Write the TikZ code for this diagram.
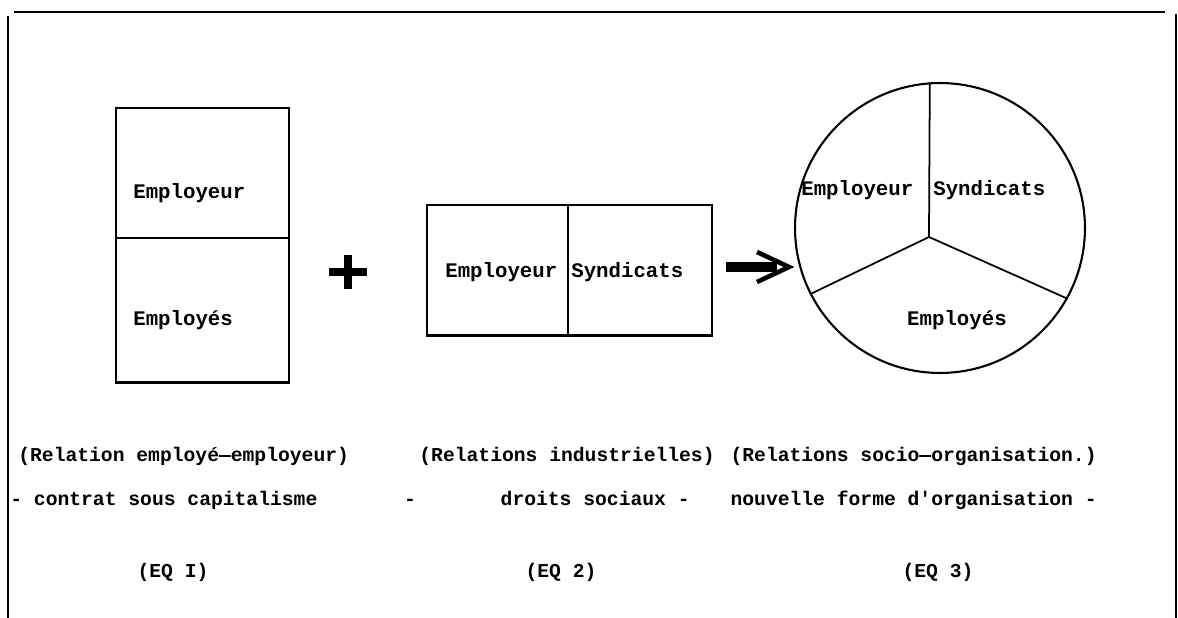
\documentclass[tikz,border=0pt]{standalone}
\usepackage{fontspec}
\setmainfont{Liberation Mono}
\usepackage{tikz}
\usetikzlibrary{shapes.geometric, positioning}
\tikzstyle{cell} = [rectangle, draw=black, line width=1pt, inner sep=0pt]
\tikzstyle{part} = [font=\fontsize{11.8}{14}\selectfont\bfseries, inner sep=0pt]
\tikzstyle{caption} = [font=\fontsize{11.2}{14}\selectfont\bfseries, inner sep=0pt]
\tikzstyle{frame} = [line width=1.5pt]

\begin{document}
\begin{tikzpicture}[x=0.02cm, y=-0.02cm]
    \useasboundingbox (0,0) rectangle (1178,618);
    % Frame
    \draw [frame] (14,12) -- (1165,12);
    \draw [line width=1pt] (8,16) -- (8,618);
    \draw [line width=1pt] (1176,14) -- (1176,618);

    % EQ I : employeur over employes
    \node (top1) [cell, minimum width=3.46cm, minimum height=2.6cm] at (202.5,173) {};
    \node (bot1) [cell, minimum width=3.46cm, minimum height=2.88cm] at (202.5,310) {};
    \draw [frame] (bot1.south west) -- (bot1.south east);
    \node (emp1) [part, anchor=base west] at (133,199) {Employeur};
    \node (emps1) [part, anchor=base west] at (133,326) {Employés};

    % plus
    \draw [line width=4pt] (329,272) -- (367,272);
    \draw [line width=4pt] (348,255) -- (348,289);

    % EQ 2 : employeur | syndicats
    \node (left2) [cell, minimum width=2.82cm, minimum height=2.6cm] at (497.5,270) {};
    \node (right2) [cell, minimum width=2.88cm, minimum height=2.6cm] at (640,270) {};
    \draw [frame] (left2.south west) -- (right2.south east);
    \node (emp2) [part, anchor=base west] at (445,278) {Employeur};
    \node (syn2) [part, anchor=base west] at (571,278) {Syndicats};

    % arrow
    \coordinate (from) at (726,267);
    \coordinate (tip) at (789,267);
    \draw [line width=6.2pt] (from) -- ([xshift=-0.25cm]tip);
    \draw [line width=2.6pt] ([xshift=-0.64cm, yshift=0.3cm]tip) -- (tip) -- ([xshift=-0.64cm, yshift=-0.3cm]tip);

    % EQ 3 : circle in three
    \node (circ) [circle, draw=black, line width=1.2pt, minimum size=5.8cm, inner sep=0pt] at (940,228) {};
    \coordinate (hub) at (929,237);
    \draw [line width=1pt] (hub) -- (circ.94);
    \draw [line width=1pt] (hub) -- (circ.207);
    \draw [line width=1pt] (hub) -- (circ.331);
    \node (emp3) [part, anchor=base west] at (801,196) {Employeur};
    \node (syn3) [part, anchor=base west] at (933,196) {Syndicats};
    \node (emps3) [part, anchor=base] at (957,326) {Employés};

    % captions
    \node (rel1) [caption, anchor=base west] at (18,462) {(Relation employé—employeur)};
    \node (rel2) [caption, anchor=base east] at (715,462) {(Relations industrielles)};
    \node (rel3) [caption, anchor=base east] at (1097,462) {(Relations socio—organisation.)};
    \node (sub1) [caption, anchor=base west] at (10,506) {- contrat sous capitalisme};
    \node (dash) [caption, anchor=base] at (410,506) {-};
    \node (sub2) [caption, anchor=base east] at (690,506) {droits sociaux -};
    \node (sub3) [caption, anchor=base east] at (1097,506) {nouvelle forme d\textquotesingle organisation -};
    \node (eq1) [caption, anchor=base] at (173,578) {(EQ I)};
    \node (eq2) [caption, anchor=base] at (561,578) {(EQ 2)};
    \node (eq3) [caption, anchor=base] at (938,578) {(EQ 3)};
\end{tikzpicture}
\end{document}
